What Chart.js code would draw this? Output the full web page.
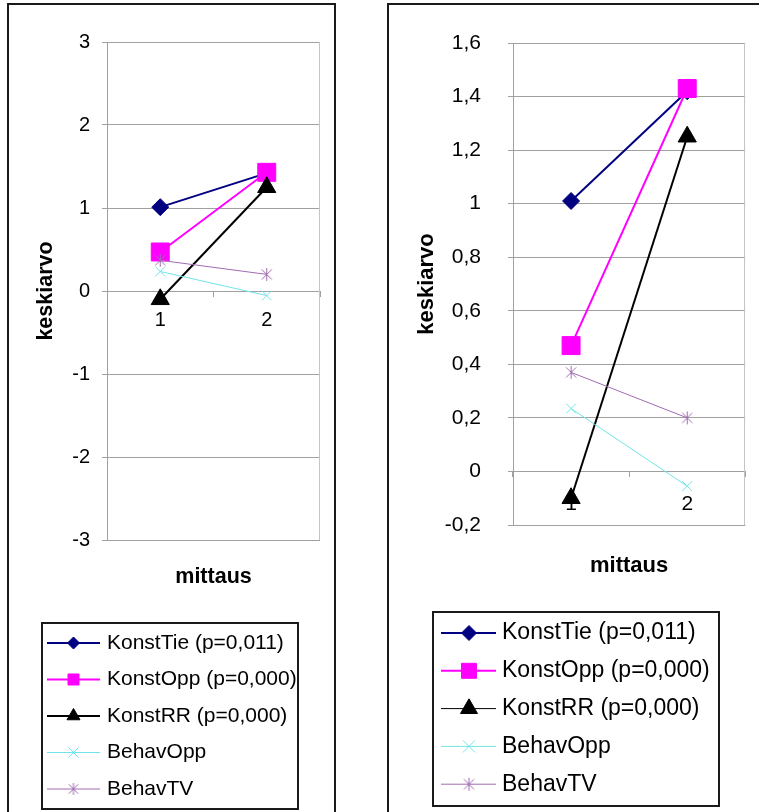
<!DOCTYPE html>
<html><head><meta charset="utf-8">
<script src="https://cdn.jsdelivr.net/npm/chart.js@4.4.0/dist/chart.umd.min.js"></script>
<style>
html,body{margin:0;padding:0;background:#fff;width:759px;height:812px;overflow:hidden;}
.frame{position:absolute;border:2px solid #1a1a1a;box-sizing:border-box;}
canvas{position:absolute;top:0;}
</style></head><body>
<div class="frame" style="left:7px;top:3px;width:329px;height:840px;"></div>
<div class="frame" style="left:387px;top:3px;width:420px;height:840px;"></div>
<canvas id="c1" width="380" height="812" style="left:0;width:380px;height:812px"></canvas>
<canvas id="c2" width="379" height="812" style="left:380px;width:379px;height:812px"></canvas>
<script>
// ---- data ----
const categories = ['1', '2'];
const seriesNames = ['KonstTie (p=0,011)', 'KonstOpp (p=0,000)', 'KonstRR (p=0,000)', 'BehavOpp', 'BehavTV'];
const konstTie = [1.01, 1.42];
const konstOpp = [0.47, 1.43];
const konstRR = [-0.10, 1.25];
const behavOpp = [0.235, -0.055];
const behavTV = [0.37, 0.20];
const leftYTicks = [-3, -2, -1, 0, 1, 2, 3];
const rightYTicks = [-0.2, 0, 0.2, 0.4, 0.6, 0.8, 1, 1.2, 1.4, 1.6];
const yTitle = 'keskiarvo';
const xTitle = 'mittaus';

const FAMILY = "'Liberation Sans', Arial, Helvetica, sans-serif";
Chart.defaults.font.family = FAMILY;
Chart.defaults.color = '#000';

function asterisk(r, color) {
  const s = Math.ceil(2 * r + 2);
  const c = document.createElement('canvas');
  c.width = s; c.height = s;
  const g = c.getContext('2d');
  const m = s / 2, d = r * 0.78;
  g.strokeStyle = color; g.lineWidth = 1;
  g.beginPath();
  g.moveTo(m, m - r); g.lineTo(m, m + r);
  g.moveTo(m - d, m - d); g.lineTo(m + d, m + d);
  g.moveTo(m + d, m - d); g.lineTo(m - d, m + d);
  g.stroke();
  return c;
}

const seriesValues = [konstTie, konstOpp, konstRR, behavOpp, behavTV];
const seriesStyle = [
  {color: '#000080', width: 2, point: 'rectRot', r: 8.5},
  {color: '#ff00ff', width: 2, point: 'rect', r: 12.7},
  {color: '#000000', width: 2, point: 'triangle', r: 10.5},
  {color: '#70e4ea', width: 1, point: 'crossRot', r: 7},
  {color: '#a06cb0', width: 1, point: 'asterisk', r: 6.5}
];

function makeDatasets(legendRadii, legendWidths) {
  return seriesValues.map((vals, i) => {
    const st = seriesStyle[i];
    const isAst = st.point === 'asterisk';
    return {
      label: seriesNames[i],
      data: vals,
      borderColor: st.color,
      borderWidth: st.width,
      legendLineWidth: legendWidths[i],
      legendRadius: legendRadii[i],
      pointStyle: isAst ? asterisk(st.r, st.color) : st.point,
      legendPointStyle: isAst ? asterisk(legendRadii[i], st.color) : st.point,
      pointRadius: st.r,
      pointHoverRadius: st.r,
      pointBackgroundColor: st.color,
      pointBorderColor: st.color,
      pointBorderWidth: 1,
      fill: false,
      tension: 0,
      clip: false,
      order: seriesValues.length - i
    };
  });
}

const plotBorder = {
  id: 'plotBorder',
  beforeDatasetsDraw(chart) {
    const {ctx, chartArea: a} = chart;
    ctx.save();
    ctx.strokeStyle = '#c4c4c4';
    ctx.lineWidth = 1;
    ctx.beginPath();
    const x = Math.round(a.right) - 0.5;
    ctx.moveTo(x, Math.round(a.top)); ctx.lineTo(x, Math.round(a.bottom));
    ctx.stroke();
    ctx.restore();
  }
};

const boxLegend = {
  id: 'boxLegend',
  afterDraw(chart, args, o) {
    const ctx = chart.ctx;
    ctx.save();
    ctx.lineWidth = 2; ctx.strokeStyle = '#1a1a1a';
    ctx.strokeRect(o.x, o.y, o.w, o.h);
    ctx.font = o.fontSize + 'px ' + FAMILY;
    ctx.textBaseline = 'middle';
    chart.data.datasets.forEach((ds, i) => {
      const y = o.rowY + i * o.rowGap;
      ctx.strokeStyle = ds.borderColor;
      ctx.lineWidth = ds.legendLineWidth;
      ctx.beginPath(); ctx.moveTo(o.lineX1, y); ctx.lineTo(o.lineX2, y); ctx.stroke();
      ctx.fillStyle = ds.pointBackgroundColor;
      ctx.strokeStyle = ds.pointBorderColor;
      ctx.lineWidth = 1;
      Chart.helpers.drawPoint(ctx, {
        pointStyle: ds.legendPointStyle,
        radius: ds.legendRadius,
        rotation: 0,
        borderWidth: 1
      }, o.markerX, y);
      ctx.fillStyle = '#000';
      ctx.fillText(ds.label, o.textX, y);
    });
    ctx.restore();
  }
};

function makeChart(id, cfg) {
  const yT = cfg.yTicks;
  return new Chart(document.getElementById(id), {
    type: 'line',
    data: {labels: categories, datasets: makeDatasets(cfg.legendRadii, cfg.legendWidths)},
    plugins: [plotBorder, boxLegend],
    options: {
      responsive: false,
      animation: false,
      devicePixelRatio: 1,
      events: [],
      layout: {padding: cfg.padding},
      plugins: {
        legend: {display: false},
        tooltip: {enabled: false},
        boxLegend: cfg.legend
      },
      scales: {
        x: {
          type: 'category',
          position: {y: 0},
          offset: true,
          grid: {offset: true, drawOnChartArea: false, drawTicks: true, tickLength: 5, color: '#a0a0a0'},
          border: {color: '#a0a0a0', width: 1},
          ticks: {font: {size: cfg.tickSize}, color: '#000', padding: cfg.xPad, maxRotation: 0, autoSkip: false}
        },
        xt: {
          type: 'category',
          axis: 'x',
          position: 'bottom',
          labels: categories,
          grid: {display: false},
          border: {display: false},
          ticks: {display: false},
          title: {display: true, text: xTitle, color: '#000', padding: 0,
                  font: {size: cfg.titleSize, weight: 'bold'}},
          afterFit(s) { s.height = cfg.xtHeight; }
        },
        y: {
          type: 'linear',
          min: yT[0],
          max: yT[yT.length - 1],
          afterBuildTicks(s) { s.ticks = yT.map(v => ({value: v})); },
          grid: {color: '#a0a0a0', tickLength: 5, drawTicks: true},
          border: {color: '#a0a0a0', width: 1},
          ticks: {font: {size: cfg.tickSize}, color: '#000', padding: cfg.yPad,
                  callback: v => String(v).replace('.', ',')},
          title: {display: true, text: yTitle, color: '#000', padding: 0,
                  font: {size: cfg.titleSize, weight: 'bold'}},
          afterFit(s) { s.width = cfg.yWidth; }
        }
      }
    }
  });
}

makeChart('c1', {
  yTicks: leftYTicks,
  padding: {left: 33, top: 42, right: 60, bottom: 222},
  yWidth: 74, xtHeight: 50,
  tickSize: 20, titleSize: 21.5, xPad: 12, yPad: 12,
  legendWidths: [2, 2, 2, 1, 1],
  legendRadii: [6, 7.8, 7.5, 7, 6],
  legend: {x: 42, y: 623, w: 256, h: 186, fontSize: 21, rowY: 643, rowGap: 36.5,
           lineX1: 47, lineX2: 100, markerX: 73.5, textX: 107}
});

makeChart('c2', {
  yTicks: rightYTicks,
  padding: {left: 34, top: 43, right: 8, bottom: 233},
  yWidth: 99, xtHeight: 54,
  tickSize: 21, titleSize: 22, xPad: 15, yPad: 27,
  legendWidths: [2, 2, 1, 1, 1],
  legendRadii: [7.5, 10.6, 9.8, 8.5, 6.5],
  legend: {x: 53, y: 612, w: 286, h: 194, fontSize: 23, rowY: 633, rowGap: 37.8,
           lineX1: 61, lineX2: 116, markerX: 89, textX: 122}
});
</script>
</body></html>
